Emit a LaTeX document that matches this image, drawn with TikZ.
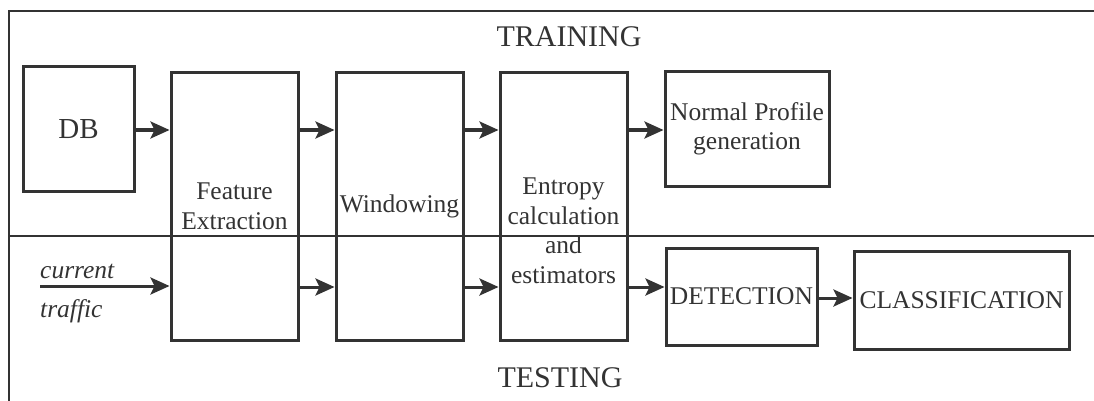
\documentclass[tikz,border=0pt]{standalone}
\usepackage{fontspec}
\setmainfont{Liberation Serif}
\usepackage{tikz}
\usetikzlibrary{arrows.meta}
\definecolor{inkgray}{HTML}{333333}
\tikzset{
    block/.style = {draw=inkgray, line width=3pt, rectangle, inner sep=0pt, align=center,
        font=\fontsize{25.5}{29.5}\selectfont, text=inkgray},
    block-label/.style = {align=center, inner sep=0pt, font=\fontsize{25.5}{29.5}\selectfont, text=inkgray},
    phase-title/.style = {inner sep=0pt, anchor=base, font=\fontsize{30}{34}\selectfont, text=inkgray},
    flow/.style = {draw=inkgray, line width=3pt, -{Stealth[length=19pt,width=17pt,inset=4pt]}},
    frame-line/.style = {draw=inkgray, line width=1.6pt},
}
\begin{document}
\begin{tikzpicture}[x=1pt,y=-1pt]
\useasboundingbox (0,0) rectangle (1094,401);
% frame and phase separator
\draw[frame-line] (9,401) -- (9,11) -- (1094,11);
\draw[frame-line] (9,236) -- (1094,236);
\node[phase-title] (training) at (569,47) {TRAINING};
\node[phase-title] (testing) at (560,387) {TESTING};
% blocks
\node[block, minimum width=111pt, minimum height=124pt, font=\fontsize{29}{33}\selectfont] (db) at (78.5,129) {DB};
\node[block, minimum width=127pt, minimum height=267pt] (fe) at (234.5,206.5) {Feature\\Extraction};
\node[block, minimum width=127pt, minimum height=267pt] (win) at (399.5,206.5) {Windowing};
\node[block, minimum width=127pt, minimum height=267pt] (ent) at (563.5,206.5) {};
\node[block-label] (entlbl) at (563.5,231) {Entropy\\calculation\\and\\estimators};
\node[block, minimum width=164pt, minimum height=114pt] (np) at (747,129) {Normal Profile\\generation};
\node[block, minimum width=151pt, minimum height=97pt] (det) at (741.5,296.5) {DETECTION};
\node[block, minimum width=215pt, minimum height=98pt] (cls) at (961.5,300) {CLASSIFICATION};
% input
\coordinate (toprow) at (0,130);
\coordinate (botrow) at (0,287);
\coordinate (traffic) at (40,286);
\node[block-label, anchor=base west, font=\fontsize{25.5}{29.5}\selectfont\itshape] (curlbl) at (40,278) {current};
\node[block-label, anchor=base west, font=\fontsize{25.5}{29.5}\selectfont\itshape] (trflbl) at (40,317) {traffic};
% training flow
\draw[flow] (db.east |- toprow) -- (fe.west |- toprow);
\draw[flow] (fe.east |- toprow) -- (win.west |- toprow);
\draw[flow] (win.east |- toprow) -- (ent.west |- toprow);
\draw[flow] (ent.east |- toprow) -- (np.west |- toprow);
% testing flow
\draw[flow] (traffic) -- (traffic -| fe.west);
\draw[flow] (fe.east |- botrow) -- (win.west |- botrow);
\draw[flow] (win.east |- botrow) -- (ent.west |- botrow);
\draw[flow] (ent.east |- botrow) -- (det.west |- botrow);
\draw[flow] (det.east |- 0,298) -- (cls.west |- 0,298);
\end{tikzpicture}
\end{document}
